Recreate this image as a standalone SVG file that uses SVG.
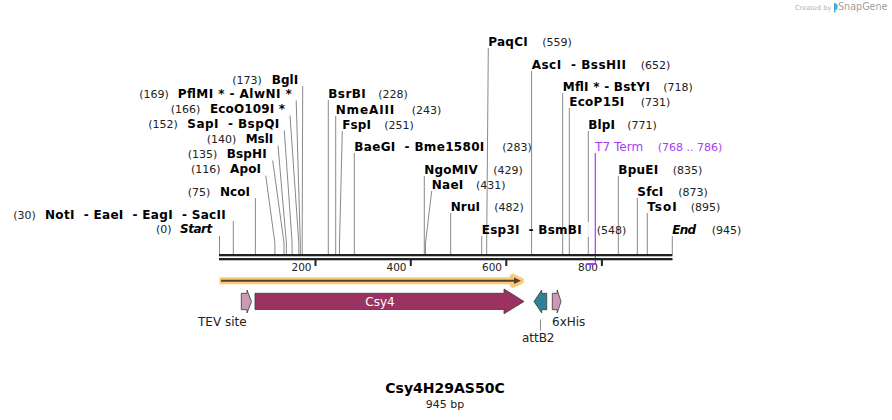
<svg xmlns="http://www.w3.org/2000/svg" width="892" height="420" viewBox="0 0 892 420">
<style>
text{font-family:"DejaVu Sans",Verdana,"Liberation Sans",sans-serif;white-space:pre}
.n{font-size:12px;font-weight:bold;fill:#000}
.i{font-style:italic}
.p{font-size:11px;fill:#222}
.t7{fill:#a63ef0}
.ln{fill:none;stroke:#8a8a8a;stroke-width:1}
.lp{fill:none;stroke:#a63ef0;stroke-width:1.2}
.rl{fill:#222}
.tk{font-size:10.5px;fill:#222;text-anchor:end}
.fl{font-size:12px;fill:#222}
.ft{stroke:#3a3a3a;stroke-width:0.8}
</style>
<rect width="892" height="420" fill="#fff"/>

<g id="logo">
<text x="795" y="9.5" style="font-size:6.6px;fill:#b0b0b0">Created by</text>
<path d="M834,2.5 L837.5,4.5 L837.5,9 L835.5,10 L835.5,12.5 L834,12.5 Z" fill="#4aa8e0"/>
<text x="838" y="10" style="font-size:9.6px;fill:#a0a0a0">SnapGene</text>
</g>

<g id="connectors">
<path class="ln" d="M219.5,236 V254"/>
<path class="ln" d="M233.3,221 V254"/>
<path class="ln" d="M255.4,198 V254"/>
<path class="ln" d="M265.7,175.5 L274.9,243 V254"/>
<path class="ln" d="M272.7,160.5 L284,243 V254"/>
<path class="ln" d="M278,145.5 L286.4,243 V254"/>
<path class="ln" d="M284.3,130.5 L292.1,243 V254"/>
<path class="ln" d="M290,115.5 L298.8,243 V254"/>
<path class="ln" d="M296.2,100.5 L300.3,243 V254"/>
<path class="ln" d="M302.7,86 L302.2,243 V254"/>
<path class="ln" d="M328.3,100 V254"/>
<path class="ln" d="M335.7,116 V254"/>
<path class="ln" d="M342.3,131 L339.5,243 V254"/>
<path class="ln" d="M354.3,153 V254"/>
<path class="ln" d="M424.3,176 V254"/>
<path class="ln" d="M431.7,191 L425.5,243 V254"/>
<path class="ln" d="M450.7,213 V254"/>
<path class="ln" d="M481.7,236 V254"/>
<path class="ln" d="M488.3,48 L486.7,243 V254"/>
<path class="ln" d="M531.6,71 V254"/>
<path class="ln" d="M562.7,93 V254"/>
<path class="ln" d="M569.3,108 V254"/>
<path class="ln" d="M588.3,131 V254"/>
<path class="ln" d="M618.3,176 V254"/>
<path class="ln" d="M637.3,198 V254"/>
<path class="ln" d="M647.3,213 V254"/>
<path class="ln" d="M672.3,236 V254"/>
<rect x="586" y="222" width="9" height="15" fill="#fff" opacity="0.85"/>
<path class="lp" d="M595.3,153 V264"/>
</g>

<g id="ruler">
<rect class="rl" x="219" y="254" width="453.5" height="2.3"/>
<rect class="rl" x="219" y="258" width="453.5" height="2.3"/>
<rect class="rl" x="314.5" y="260" width="2" height="6"/>
<rect class="rl" x="409.8" y="260" width="2" height="6"/>
<rect class="rl" x="505.3" y="260" width="2" height="6"/>
<rect class="rl" x="600.9" y="260" width="2" height="6"/>
<text class="tk" x="311.5" y="270.7">200</text>
<text class="tk" x="406.5" y="270.7">400</text>
<text class="tk" x="502" y="270.7">600</text>
<text class="tk" x="598" y="270.7">800</text>
<rect x="586.6" y="263" width="9" height="2" fill="#a63ef0"/>
</g>

<g id="orf">
<path d="M219.5,280.8 H517" fill="none" stroke="#fcc977" stroke-width="7"/>
<path d="M513,277.3 L520.5,280.8 L513,284.3" fill="none" stroke="#fcc977" stroke-width="7" stroke-linejoin="round" stroke-linecap="round"/>
<path d="M221,280.8 H518" fill="none" stroke="#4f4231" stroke-width="2"/>
<path d="M514,277.6 L521,280.8 L514,284 Z" fill="#4f4231"/>
</g>

<g id="tev-site">
<path class="ft" d="M241.3,293.3 H247 V290 L251.5,301.5 L247,313 V309.7 H241.3 Z" fill="#cc99b6"/>
<text class="fl" x="198" y="326">TEV site</text>
</g>

<g id="csy4">
<path class="ft" d="M255,293.3 H504 V289 L524,301.5 L504,313.8 V309.5 H255 Z" fill="#9a3262"/>
<text x="380" y="306" style="font-size:12px;fill:#fff;text-anchor:middle">Csy4</text>
</g>

<g id="attb2">
<path class="ft" d="M546.7,293.3 H541.7 V290 L534,301.5 L541.7,313 V309.7 H546.7 Z" fill="#2f8296"/>
<path class="ln" d="M540.5,319.5 V330.5"/>
<text class="fl" x="538.2" y="341.7" style="text-anchor:middle">attB2</text>
</g>

<g id="his6">
<path class="ft" d="M552.3,293.3 H557.2 V290 L561,301.5 L557.2,313 V309.7 H552.3 Z" fill="#cc99b6"/>
<text class="fl" x="552" y="326">6xHis</text>
</g>

<g id="sites-left">
<g id="start"><text class="p" x="156" y="233.3">(0)</text><text class="n i" x="180" y="233.3" textLength="32.3">Start</text></g>
<g id="noti"><text class="p" x="13.3" y="219">(30)</text><text class="n" x="45" y="219" textLength="180.7">NotI  - EaeI  - EagI  - SacII</text></g>
<g id="ncoi"><text class="p" x="187.7" y="196">(75)</text><text class="n" x="220" y="196" textLength="30">NcoI</text></g>
<g id="apoi"><text class="p" x="191" y="173.3">(116)</text><text class="n" x="230" y="173.3" textLength="31">ApoI</text></g>
<g id="bsphi"><text class="p" x="187.7" y="158.3">(135)</text><text class="n" x="226.7" y="158.3" textLength="40">BspHI</text></g>
<g id="msli"><text class="p" x="206.7" y="143.3">(140)</text><text class="n" x="245.7" y="143.3" textLength="27.6">MslI</text></g>
<g id="sapi"><text class="p" x="148.3" y="128.3">(152)</text><text class="n" x="187.3" y="128.3" textLength="92">SapI  - BspQI</text></g>
<g id="ecoo109i"><text class="p" x="170.7" y="113.3">(166)</text><text class="n" x="210" y="113.3" textLength="75">EcoO109I *</text></g>
<g id="pflmi"><text class="p" x="139.3" y="98.3">(169)</text><text class="n" x="177.7" y="98.3" textLength="114">PflMI * - AlwNI *</text></g>
<g id="bgli"><text class="p" x="232.3" y="84">(173)</text><text class="n" x="271.7" y="84" textLength="26.6">BglI</text></g>
</g>

<g id="sites-right">
<g id="bsrbi"><text class="n" x="328.3" y="98.3" textLength="37.4">BsrBI</text><text class="p" x="378.3" y="98.3">(228)</text></g>
<g id="nmeaiii"><text class="n" x="335.7" y="114" textLength="58.6">NmeAIII</text><text class="p" x="411.7" y="114">(243)</text></g>
<g id="fspi"><text class="n" x="342.3" y="129" textLength="28.7">FspI</text><text class="p" x="384.3" y="129">(251)</text></g>
<g id="baegi"><text class="n" x="354.3" y="150.7" textLength="130">BaeGI  - Bme1580I</text><text class="p" x="502.3" y="150.7">(283)</text></g>
<g id="ngomiv"><text class="n" x="424.3" y="174" textLength="53.4">NgoMIV</text><text class="p" x="493.3" y="174">(429)</text></g>
<g id="naei"><text class="n" x="431.7" y="189" textLength="31.6">NaeI</text><text class="p" x="476" y="189">(431)</text></g>
<g id="nrui"><text class="n" x="450.7" y="211" textLength="29.3">NruI</text><text class="p" x="494.3" y="211">(482)</text></g>
<g id="esp3i"><text class="n" x="481.7" y="234" textLength="100">Esp3I  - BsmBI</text><text class="p" x="596.7" y="234">(548)</text></g>
<g id="paqci"><text class="n" x="488.3" y="46" textLength="39.4">PaqCI</text><text class="p" x="542.3" y="46">(559)</text></g>
<g id="asci"><text class="n" x="531.7" y="69" textLength="94.3">AscI  - BssHII</text><text class="p" x="640.7" y="69">(652)</text></g>
<g id="mfli"><text class="n" x="562.7" y="91" textLength="87.3">MflI * - BstYI</text><text class="p" x="663.3" y="91">(718)</text></g>
<g id="ecop15i"><text class="n" x="569.3" y="106" textLength="55">EcoP15I</text><text class="p" x="640.7" y="106">(731)</text></g>
<g id="blpi"><text class="n" x="588.3" y="129" textLength="26.7">BlpI</text><text class="p" x="627.3" y="129">(771)</text></g>
<g id="t7term"><text class="t7" x="595" y="151" style="font-size:12px" textLength="48.3">T7 Term</text><text class="p t7" x="657.7" y="151">(768 .. 786)</text></g>
<g id="bpuei"><text class="n" x="618.3" y="174" textLength="40">BpuEI</text><text class="p" x="672.7" y="174">(835)</text></g>
<g id="sfci"><text class="n" x="637.3" y="196" textLength="26">SfcI</text><text class="p" x="678.3" y="196">(873)</text></g>
<g id="tsoi"><text class="n" x="647.3" y="211" textLength="29.4">TsoI</text><text class="p" x="690.7" y="211">(895)</text></g>
<g id="end"><text class="n i" x="672.3" y="234" textLength="23.7">End</text><text class="p" x="711.7" y="234">(945)</text></g>
</g>

<g id="title">
<text x="445" y="393.3" style="font-size:14px;font-weight:bold;fill:#000;text-anchor:middle">Csy4H29AS50C</text>
<text x="445" y="408" style="font-size:11px;fill:#222;text-anchor:middle">945 bp</text>
</g>
</svg>
